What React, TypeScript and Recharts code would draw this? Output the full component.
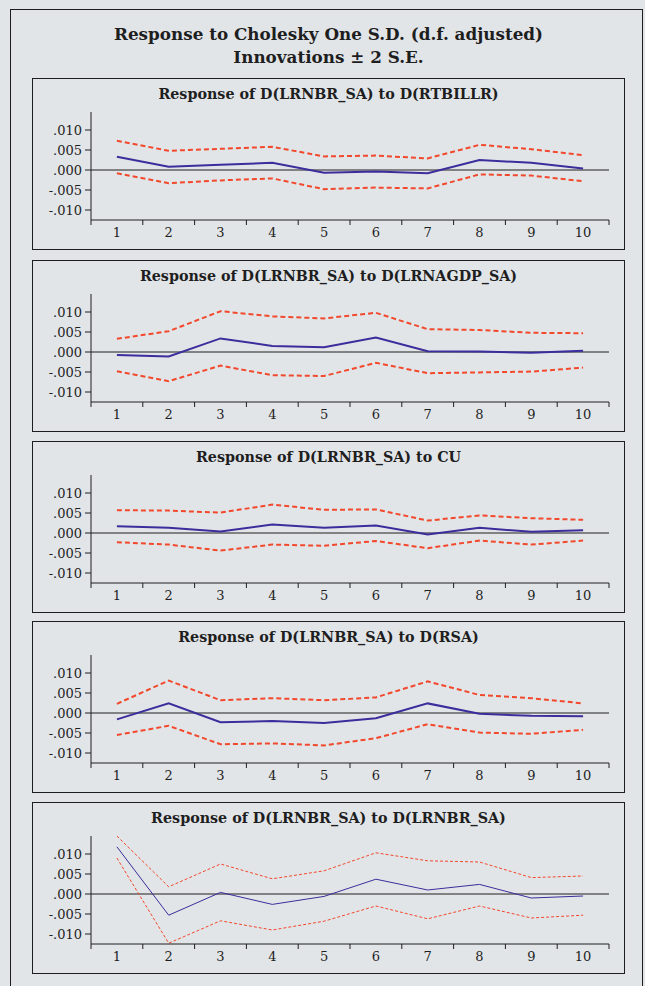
import React from "react"
import {
  LineChart,
  Line,
  XAxis,
  YAxis,
  ReferenceLine,
} from "recharts"

const periods = ["1", "2", "3", "4", "5", "6", "7", "8", "9", "10"]
const yTicks = [-0.01, -0.005, 0, 0.005, 0.01]

// impulse responses of D(LRNBR_SA)
const rtbillrResp = [0.0033, 0.0008, 0.0013, 0.0018, -0.0007, -0.0004, -0.0008, 0.0025, 0.0018, 0.0004]
const rtbillrUpper = [0.0073, 0.0048, 0.0053, 0.0058, 0.0034, 0.0036, 0.0029, 0.0063, 0.0052, 0.0037]
const rtbillrLower = [-0.0008, -0.0033, -0.0026, -0.0021, -0.0048, -0.0044, -0.0046, -0.0011, -0.0014, -0.0028]

const gdpResp = [-0.00075, -0.0011, 0.0034, 0.0015, 0.0012, 0.0036, 0.0002, 0.0001, -0.0002, 0.0003]
const gdpUpper = [0.0033, 0.0052, 0.0102, 0.0089, 0.0084, 0.0098, 0.0057, 0.0055, 0.0048, 0.0047]
const gdpLower = [-0.0048, -0.0073, -0.0034, -0.0058, -0.006, -0.0027, -0.0053, -0.0051, -0.0049, -0.0039]

const cuResp = [0.0017, 0.0013, 0.0004, 0.0021, 0.0013, 0.0019, -0.0004, 0.0013, 0.0003, 0.0007]
const cuUpper = [0.0057, 0.0056, 0.0051, 0.0071, 0.0058, 0.0059, 0.0031, 0.0044, 0.0037, 0.0033]
const cuLower = [-0.0023, -0.0029, -0.0044, -0.0029, -0.0032, -0.002, -0.0038, -0.0019, -0.0029, -0.0019]

const rsaResp = [-0.0016, 0.0024, -0.0023, -0.002, -0.0025, -0.0013, 0.0024, -0.0002, -0.0007, -0.0008]
const rsaUpper = [0.0023, 0.0081, 0.0032, 0.0037, 0.0032, 0.0039, 0.0079, 0.0045, 0.0037, 0.0024]
const rsaLower = [-0.0055, -0.0032, -0.0078, -0.0076, -0.0081, -0.0063, -0.0028, -0.0049, -0.0052, -0.0042]

const ownResp = [0.0118, -0.0053, 0.0004, -0.0026, -0.0006, 0.0037, 0.001, 0.0024, -0.001, -0.0005]
const ownUpper = [0.0145, 0.0018, 0.0075, 0.0038, 0.0058, 0.0103, 0.0083, 0.008, 0.0041, 0.0045]
const ownLower = [0.009, -0.0123, -0.0067, -0.009, -0.0068, -0.003, -0.0062, -0.003, -0.006, -0.0053]

const panels = [
  { title: "Response of D(LRNBR_SA) to D(RTBILLR)", resp: rtbillrResp, upper: rtbillrUpper, lower: rtbillrLower, top: 78, thin: false },
  { title: "Response of D(LRNBR_SA) to D(LRNAGDP_SA)", resp: gdpResp, upper: gdpUpper, lower: gdpLower, top: 260, thin: false },
  { title: "Response of D(LRNBR_SA) to CU", resp: cuResp, upper: cuUpper, lower: cuLower, top: 441, thin: false },
  { title: "Response of D(LRNBR_SA) to D(RSA)", resp: rsaResp, upper: rsaUpper, lower: rsaLower, top: 621, thin: false },
  { title: "Response of D(LRNBR_SA) to D(LRNBR_SA)", resp: ownResp, upper: ownUpper, lower: ownLower, top: 802, thin: true },
]

const BLUE = "#3b2d9c"
const RED = "#f2482c"
const INK = "#1e1e1e"
const SERIF = "'DejaVu Serif', serif"
const X_TICK_GAP = 8

const fmtTick = (v: number) => {
  if (v === 0) return ".000"
  return (v < 0 ? "-" : "") + Math.abs(v).toFixed(3).replace(/^0/, "")
}

// period label in the middle of its band, tick marks on the band edges
function PeriodTick(props: any) {
  const { x, y, payload, index } = props
  const half = payload.offset ?? 25.9
  const axisY = y - X_TICK_GAP
  const last = index === periods.length - 1
  return (
    <g>
      <line x1={x - half} x2={x - half} y1={axisY} y2={axisY + 5} stroke={INK} />
      {last && <line x1={x + half} x2={x + half} y1={axisY} y2={axisY + 5} stroke={INK} />}
      <text x={x} y={y} dy="0.71em" textAnchor="middle" fill={INK} fontSize={13}>
        {payload.value}
      </text>
    </g>
  )
}

function Panel({ title, resp, upper, lower, top, thin }: (typeof panels)[number]) {
  const data = periods.map((p, i) => ({
    period: p,
    resp: resp[i],
    upper: upper[i],
    lower: lower[i],
  }))
  const w = thin ? 1 : 2
  const dash = thin ? "3 2" : "5 3"

  return (
    <>
      <div
        style={{
          position: "absolute",
          left: 32,
          top,
          width: 593,
          height: 172,
          boxSizing: "border-box",
          border: `1.5px solid ${INK}`,
        }}
      />
      <div
        style={{
          position: "absolute",
          left: 32,
          top: top + 8,
          width: 593,
          textAlign: "center",
          fontFamily: SERIF,
          fontWeight: "bold",
          fontSize: 14.3,
          color: INK,
        }}
      >
        {title}
      </div>
      <div style={{ position: "absolute", left: 0, top, fontFamily: SERIF }}>
        <LineChart
          width={645}
          height={172}
          data={data}
          margin={{ top: 34, right: 36, bottom: 0, left: 0 }}
        >
          <XAxis
            dataKey="period"
            scale="band"
            interval={0}
            tickLine={false}
            tickSize={4}
            tickMargin={X_TICK_GAP - 4}
            height={30}
            stroke={INK}
            tick={<PeriodTick />}
          />
          <YAxis
            domain={[-0.0125, 0.0145]}
            ticks={yTicks}
            interval={0}
            allowDataOverflow
            tickFormatter={fmtTick}
            width={91}
            tickSize={6}
            tickMargin={3}
            stroke={INK}
            tick={{ fill: INK, fontSize: 13 }}
          />
          <ReferenceLine y={0} stroke={INK} strokeWidth={1} />
          <Line
            dataKey="upper"
            stroke={RED}
            strokeWidth={w}
            strokeDasharray={dash}
            dot={false}
            isAnimationActive={false}
          />
          <Line
            dataKey="lower"
            stroke={RED}
            strokeWidth={w}
            strokeDasharray={dash}
            dot={false}
            isAnimationActive={false}
          />
          <Line
            dataKey="resp"
            stroke={BLUE}
            strokeWidth={w}
            dot={false}
            isAnimationActive={false}
          />
        </LineChart>
      </div>
    </>
  )
}

export default function App() {
  return (
    <div
      style={{
        position: "absolute",
        left: 0,
        top: 0,
        width: 645,
        height: 986,
        background: "#e2e5e8",
        overflow: "hidden",
      }}
    >
      <div
        style={{
          position: "absolute",
          left: 10,
          top: 9,
          width: 633,
          height: 1000,
          boxSizing: "border-box",
          border: `1.5px solid ${INK}`,
        }}
      />
      <div
        style={{
          position: "absolute",
          left: 32,
          top: 23,
          width: 593,
          textAlign: "center",
          fontFamily: SERIF,
          fontWeight: "bold",
          fontSize: 16.8,
          lineHeight: "23px",
          color: INK,
        }}
      >
        Response to Cholesky One S.D. (d.f. adjusted)
        <br />
        Innovations ± 2 S.E.
      </div>
      {panels.map((p) => (
        <Panel key={p.title} {...p} />
      ))}
    </div>
  )
}
